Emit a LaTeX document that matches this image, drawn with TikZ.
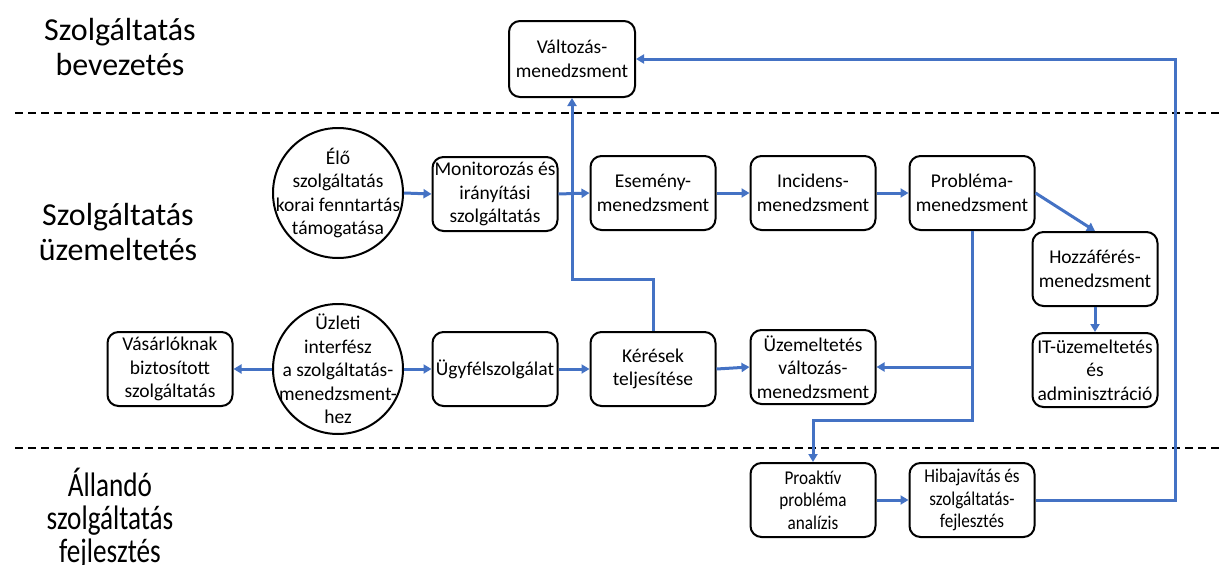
\documentclass[tikz,border=0pt]{standalone}
\usepackage{fontspec}
\setmainfont{Carlito}
\newfontfamily\narrowfont[FakeStretch=0.88]{Carlito}
\newfontfamily\titlenarrow[FakeStretch=0.8]{Carlito}
\usetikzlibrary{arrows.meta}
\definecolor{flow}{RGB}{68,114,196}
\begin{document}
\begin{tikzpicture}[x=1pt,y=-1pt,
  box/.style={draw=black,line width=2pt,rounded corners=11pt,minimum width=125pt,
    minimum height=74pt,align=center,inner sep=0pt,font=\fontsize{19.5}{23.5}\selectfont},
  slimbox/.style={box,font=\narrowfont\fontsize{19.5}{22.5}\selectfont},
  ring/.style={draw=black,line width=2pt,circle,minimum size=130pt,inner sep=0pt},
  ringtext/.style={align=center,inner sep=0pt,font=\fontsize{19.5}{23.5}\selectfont},
  link/.style={draw=flow,line width=3pt,-{Triangle[length=8pt,width=9pt]}},
  sep/.style={draw=black,line width=2pt,dash pattern=on 8pt off 5pt},
  zone/.style={align=center,font=\fontsize{32}{35}\selectfont}]
\useasboundingbox (0,0) rectangle (1219,565);

% phase separators
\draw[sep] (15,113) -- (1219,113);
\draw[sep] (15,448) -- (1219,448);

% phase titles
\node[zone] (zintro) at (120,47) {Szolgáltatás\\bevezetés};
\node[zone] (zops) at (118,232) {Szolgáltatás\\üzemeltetés};
\node[zone,font=\titlenarrow\fontsize{34}{33}\selectfont] (zimp) at (110,518) {Állandó\\szolgáltatás\\fejlesztés};

% service transition
\node[box,minimum width=126pt,minimum height=76pt] (valt) at (572,59) {Változás-\\menedzsment};

% operations, upper row
\node[ring] (elo) at (338,193) {};
\node[ringtext] (elotext) at (elo) {Élő\\szolgáltatás\\korai fenntartás\\támogatása};
\node[box] (mon) at (495,194) {Monitorozás és\\irányítási\\szolgáltatás};
\node[box] (esem) at (653,193) {Esemény-\\menedzsment};
\node[box] (inc) at (813,193) {Incidens-\\menedzsment};
\node[box] (prob) at (972,193) {Probléma-\\menedzsment};
\node[box] (hoz) at (1095,269) {Hozzáférés-\\menedzsment};
\node[box] (itop) at (1095,370) {IT-üzemeltetés\\és\\adminisztráció};

% operations, lower row
\node[box] (vas) at (170,369) {Vásárlóknak\\biztosított\\szolgáltatás};
\node[ring] (uzl) at (338,369) {};
\node[ringtext] (uzltext) at (uzl) {Üzleti\\interfész\\a szolgáltatás-\\menedzsment-\\hez};
\node[box] (ugy) at (495,369) {Ügyfélszolgálat};
\node[box] (ker) at (653,369) {Kérések\\teljesítése};
\node[box] (uzv) at (813,367) {Üzemeltetés\\változás-\\menedzsment};

% continual improvement
\node[slimbox] (pro) at (813,500) {Proaktív\\probléma\\analízis};
\node[slimbox] (hib) at (972,500) {Hibajavítás és\\szolgáltatás-\\fejlesztés};

\coordinate (rail) at (1175,500);
\coordinate (drop) at (972,420);

% connectors
\draw[link] (elo.east) -- (mon.west);
\draw[link] (mon.east) -- (esem.west);
\draw[link] (esem.east) -- (inc.west);
\draw[link] (inc.east) -- (prob.west);
\draw[link] (prob.east) -- (hoz.north);
\draw[link] (hoz.south) -- (itop.north);
\draw[link] (uzl.west) -- (vas.east);
\draw[link] (uzl.east) -- (ugy.west);
\draw[link] (ugy.east) -- (ker.west);
\draw[link] (ker.east) -- (uzv.west);
\draw[link] (ker.north) -- ++(0,-52) -| (valt.south);
\draw[link] (prob.south) -- (drop) -| (pro.north);
\draw[link] (prob.south |- uzv.east) -- (uzv.east);
\draw[link] (pro.east) -- (hib.west);
\draw[link] (hib.east) -- (rail) |- (valt.east);
\end{tikzpicture}
\end{document}
